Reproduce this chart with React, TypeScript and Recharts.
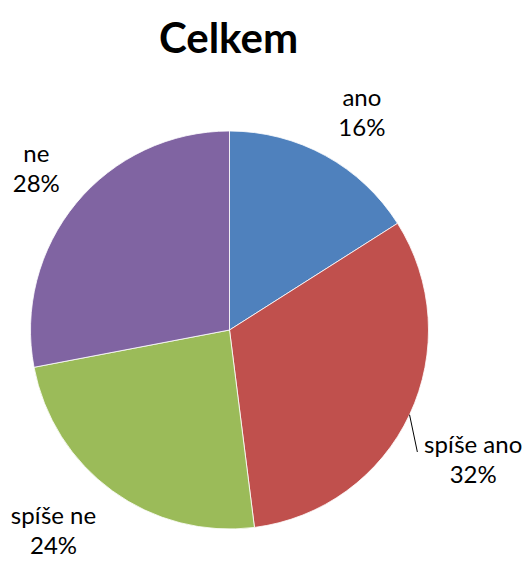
import React from 'react';
import { PieChart, Pie, Cell } from 'recharts';

const categories = ['ano', 'spíše ano', 'spíše ne', 'ne'];
const values = [16, 32, 24, 28];
const colors = ['#4F81BD', '#C0504D', '#9BBB59', '#8064A2'];
const title = 'Celkem';

const data = categories.map((name, i) => ({ name, value: values[i] }));

const RAD = Math.PI / 180;
// per-slice label placement tweaks (angle shift in degrees, extra radius)
const labelAngleShift = [-1.8, -1.6, -6.2, -1.4];
const labelRadiusExtra = [61, 74, 63, 57];

const polar = (cx: number, cy: number, r: number, a: number) => ({
  x: cx + r * Math.cos(-a * RAD),
  y: cy + r * Math.sin(-a * RAD),
});

const renderLabel = (props: any) => {
  const { cx, cy, midAngle, outerRadius, index, percent } = props;
  const p = polar(cx, cy, outerRadius + labelRadiusExtra[index], midAngle + labelAngleShift[index]);
  const pct = `${Math.round(percent * 100)}%`;
  let line = null;
  if (index === 1) {
    const a = polar(cx, cy, outerRadius, midAngle);
    const b = polar(cx, cy, outerRadius + 25, midAngle - 7.8);
    line = <line x1={a.x} y1={a.y} x2={b.x} y2={b.y} stroke="#000" strokeWidth={1} />;
  }
  return (
    <g key={`lbl-${index}`}>
      {line}
      <text
        x={p.x}
        y={p.y}
        textAnchor="middle"
        fill="#000"
        style={{ fontFamily: 'Lato, sans-serif', fontSize: 24 }}
      >
        <tspan x={p.x} dy={0}>{categories[index]}</tspan>
        <tspan x={p.x} dy={30}>{pct}</tspan>
      </text>
    </g>
  );
};

export default function App() {
  return (
    <div style={{ position: 'absolute', left: 0, top: 0, width: 526, height: 561, background: '#fff' }}>
      <div
        style={{
          position: 'absolute',
          left: 0,
          top: 16,
          width: 457,
          textAlign: 'center',
          fontFamily: 'Lato, sans-serif',
          fontWeight: 700,
          fontSize: 42,
          lineHeight: '42px',
          color: '#000',
        }}
      >
        {title}
      </div>
      <PieChart width={526} height={561} margin={{ top: 0, right: 0, bottom: 0, left: 0 }}>
        <Pie
          data={data}
          dataKey="value"
          nameKey="name"
          cx={229.5}
          cy={330}
          outerRadius={199}
          startAngle={90}
          endAngle={-270}
          stroke="#ffffff"
          strokeWidth={0.8}
          label={renderLabel}
          labelLine={false}
          isAnimationActive={false}
        >
          {data.map((d, i) => (
            <Cell key={d.name} fill={colors[i]} />
          ))}
        </Pie>
      </PieChart>
    </div>
  );
}
